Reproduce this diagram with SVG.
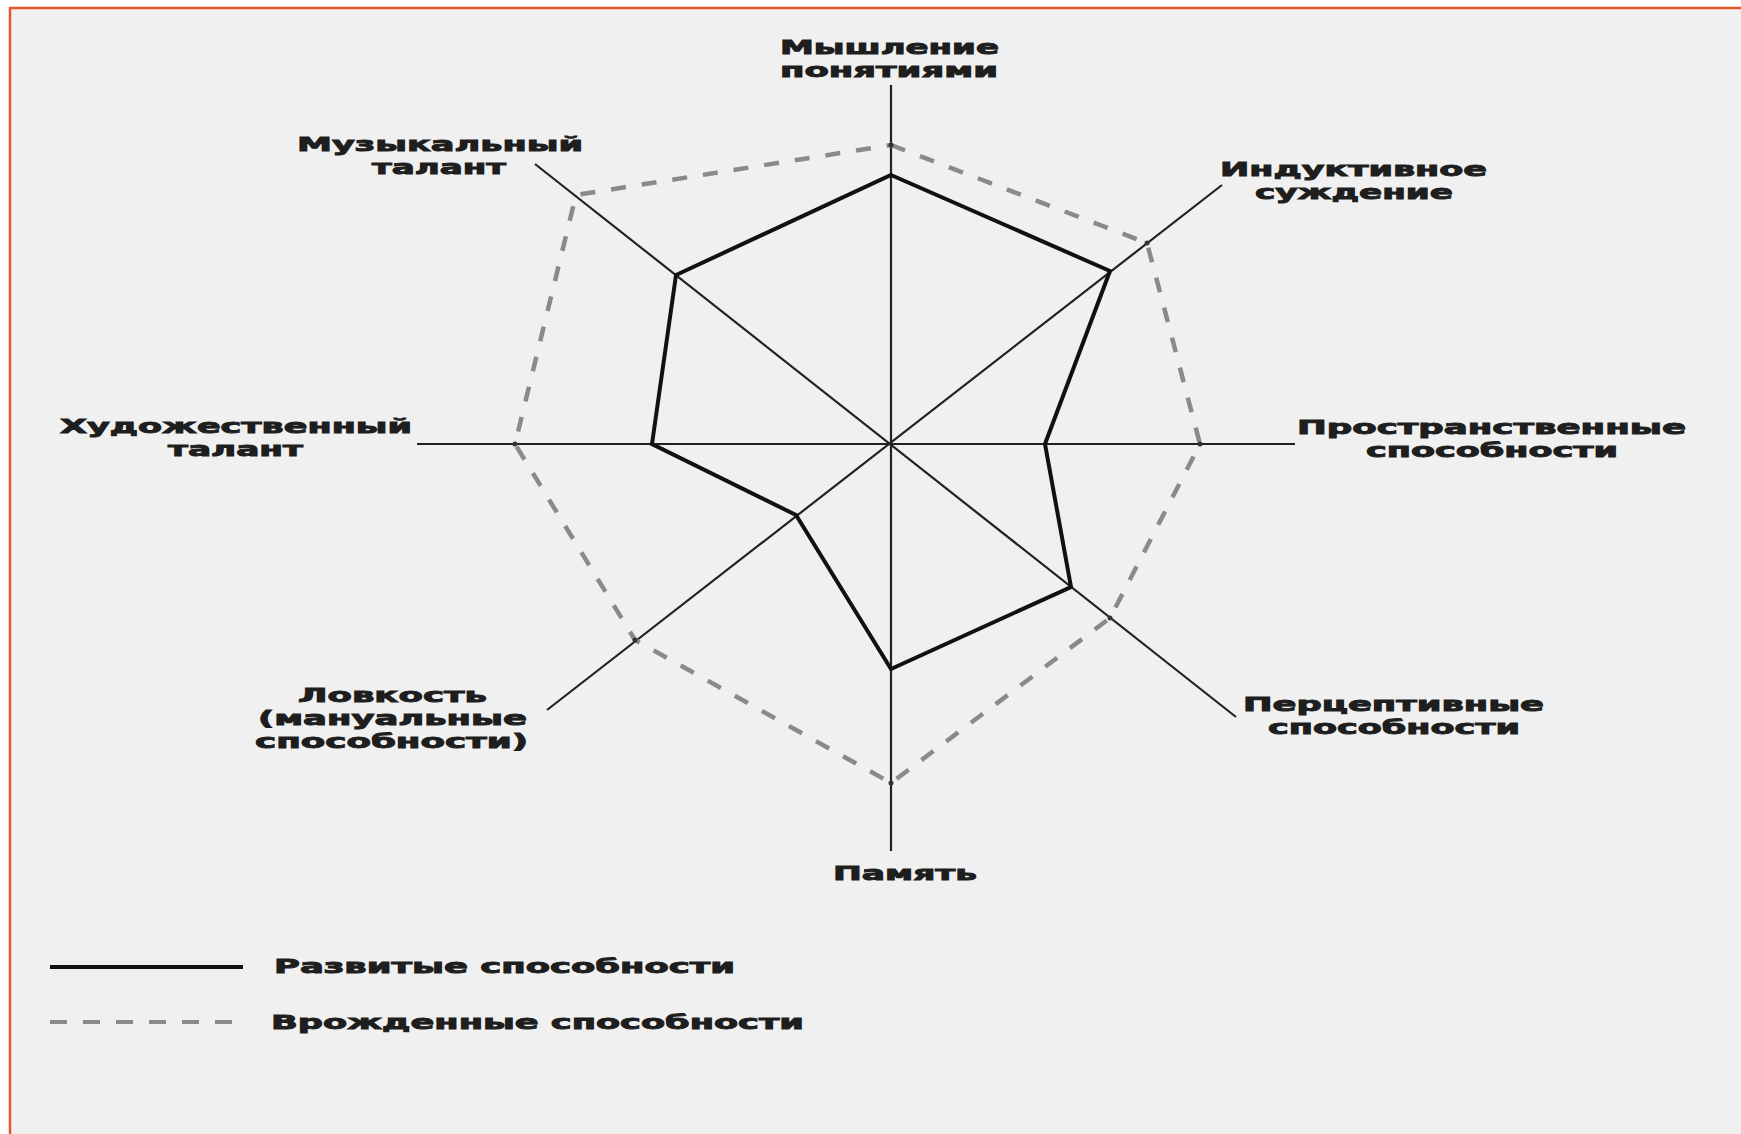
<svg xmlns="http://www.w3.org/2000/svg" width="1741" height="1134" viewBox="0 0 1741 1134">
<style>
  .lbl { font-family: "DejaVu Sans", "Liberation Sans", sans-serif; font-weight: bold; font-size: 19px; fill: #1e1e1e; stroke: #1e1e1e; stroke-width: 0.9; }
  .axis { stroke: #222; stroke-width: 2.2; fill: none; }
  .dev { stroke: #111; stroke-width: 4; fill: none; stroke-linejoin: miter; }
  .inn { stroke: #8a8a8a; stroke-width: 4.5; fill: none; stroke-dasharray: 15 16; }
  .dot { fill: #333; }
</style>
<rect x="0" y="0" width="1741" height="1134" fill="#ffffff"/>
<rect id="frame" x="10" y="8" width="1760" height="1160" fill="#f0f0f0" stroke="#e2582b" stroke-width="2.5"/>

<g id="connectors">
  <line class="axis" x1="891" y1="85" x2="891" y2="851"/>
  <line class="axis" x1="417" y1="444" x2="1295" y2="444"/>
  <line class="axis" x1="535" y1="164" x2="1236" y2="717"/>
  <line class="axis" x1="1222" y1="185" x2="547" y2="710"/>
  <polygon id="innate" class="inn" points="891,145 1147,243 1200,444 1110,618 891,783 635,640 515,444 576,195"/>
  <polygon id="developed" class="dev" points="891,175 1110,271 1045,444 1071,587 891,669 796,515 652,444 676,275"/>
  <g id="markers">
    <circle class="dot" cx="891" cy="145" r="2.5"/>
    <circle class="dot" cx="1147" cy="243" r="2.5"/>
    <circle class="dot" cx="1200" cy="444" r="2.5"/>
    <circle class="dot" cx="1110" cy="618" r="2.5"/>
    <circle class="dot" cx="891" cy="783" r="2.5"/>
    <circle class="dot" cx="635" cy="640" r="2.5"/>
    <circle class="dot" cx="515" cy="444" r="2.5"/>
  </g>
</g>

<g id="node-thinking">
  <text class="lbl"><tspan x="780" y="54" textLength="219" lengthAdjust="spacingAndGlyphs">Мышление</tspan><tspan x="780" y="77" textLength="218" lengthAdjust="spacingAndGlyphs">понятиями</tspan></text>
</g>
<g id="node-inductive">
  <text class="lbl"><tspan x="1220" y="176" textLength="267" lengthAdjust="spacingAndGlyphs">Индуктивное</tspan><tspan x="1255" y="199" textLength="198" lengthAdjust="spacingAndGlyphs">суждение</tspan></text>
</g>
<g id="node-spatial">
  <text class="lbl"><tspan x="1297" y="434" textLength="389" lengthAdjust="spacingAndGlyphs">Пространственные</tspan><tspan x="1366" y="457" textLength="252" lengthAdjust="spacingAndGlyphs">способности</tspan></text>
</g>
<g id="node-perceptive">
  <text class="lbl"><tspan x="1243" y="711" textLength="301" lengthAdjust="spacingAndGlyphs">Перцептивные</tspan><tspan x="1268" y="734" textLength="252" lengthAdjust="spacingAndGlyphs">способности</tspan></text>
</g>
<g id="node-memory">
  <text class="lbl" x="833" y="880" textLength="144" lengthAdjust="spacingAndGlyphs">Память</text>
</g>
<g id="node-dexterity">
  <text class="lbl"><tspan x="298" y="702" textLength="189" lengthAdjust="spacingAndGlyphs">Ловкость</tspan><tspan x="258" y="725" textLength="269" lengthAdjust="spacingAndGlyphs">(мануальные</tspan><tspan x="255" y="748" textLength="273" lengthAdjust="spacingAndGlyphs">способности)</tspan></text>
</g>
<g id="node-artistic">
  <text class="lbl"><tspan x="60" y="433" textLength="352" lengthAdjust="spacingAndGlyphs">Художественный</tspan><tspan x="168" y="456" textLength="135" lengthAdjust="spacingAndGlyphs">талант</tspan></text>
</g>
<g id="node-musical">
  <text class="lbl"><tspan x="297" y="151" textLength="286" lengthAdjust="spacingAndGlyphs">Музыкальный</tspan><tspan x="372" y="174" textLength="134" lengthAdjust="spacingAndGlyphs">талант</tspan></text>
</g>

<g id="legend">
  <line x1="50" y1="967" x2="243" y2="967" stroke="#111" stroke-width="4"/>
  <text class="lbl" x="274" y="973" textLength="461" lengthAdjust="spacingAndGlyphs">Развитые способности</text>
  <line x1="50" y1="1022" x2="232" y2="1022" stroke="#8a8a8a" stroke-width="4" stroke-dasharray="17 16"/>
  <text class="lbl" x="271" y="1029" textLength="533" lengthAdjust="spacingAndGlyphs">Врожденные способности</text>
</g>
</svg>
